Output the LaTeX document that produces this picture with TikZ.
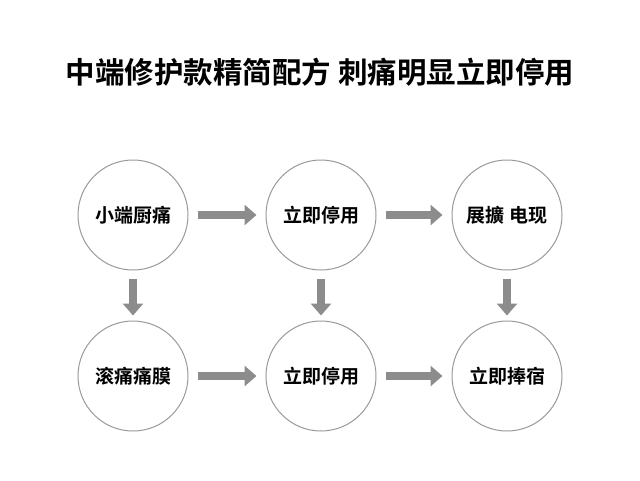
\documentclass[tikz,border=0pt]{standalone}
\usepackage{fontspec}
\newfontfamily\cjk{Noto Sans CJK SC}[BoldFont={* Bold}]
\usetikzlibrary{arrows.meta}
\usetikzlibrary{positioning}

\tikzset{
    stage/.style={circle, draw=gray!80, line width=1pt, minimum size=110pt, font=\cjk\bfseries\fontsize{19}{22}\selectfont},
    flow/.style={line width=8pt, draw=gray!90, -{Triangle[length=12pt, width=20pt]}, shorten <=9pt, shorten >=9pt}
}

\begin{document}
\begin{tikzpicture}[x=1pt, y=-1pt]

    \useasboundingbox (0, 0) rectangle (640, 480);
    \node[font=\cjk\bfseries\fontsize{29.5}{34}\selectfont] (title) at (320, 72) {中端修护款精简配方 刺痛明显立即停用};

    \node[stage] (a1) at (133, 215) {小端厨痛};
    \node[stage, right=77pt of a1] (a2) {立即停用};
    \node[stage, right=75pt of a2] (a3) {展擴 电现};
    \node[stage, below=50pt of a1] (b1) {滚痛痛膜};
    \node[stage, below=50pt of a2] (b2) {立即停用};
    \node[stage, below=50pt of a3] (b3) {立即捧宿};

    \draw[flow] (a1) -- (a2);
    \draw[flow] (a2) -- (a3);
    \draw[flow] (b1) -- (b2);
    \draw[flow] (b2) -- (b3);
    \foreach \i in {1, 2, 3} {
        \draw[flow, shorten <=8pt, shorten >=5pt] (a\i) -- (b\i);
    }
\end{tikzpicture}
\end{document}
